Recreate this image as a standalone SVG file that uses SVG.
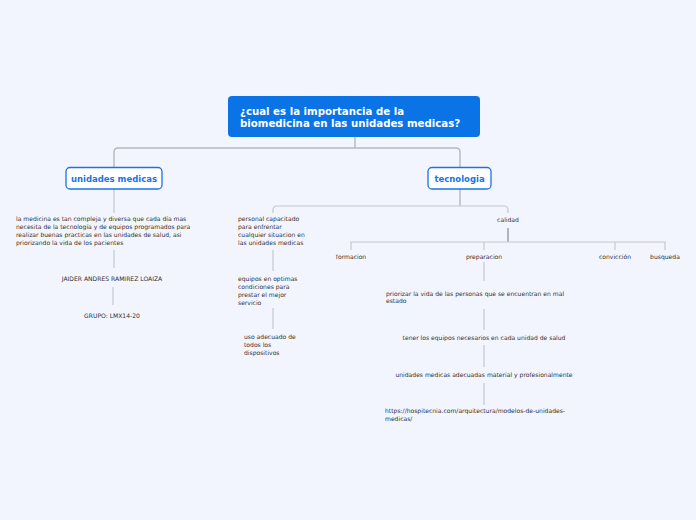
<svg xmlns="http://www.w3.org/2000/svg" width="696" height="520" viewBox="0 0 696 520">
<style>
.t{font-family:"DejaVu Sans",Verdana,sans-serif;font-size:6.05px;fill:#333}
.c{fill:none;stroke:#c4c8d0;stroke-width:1.2}
.cd{fill:none;stroke:#b4b8c0;stroke-width:1.4}
.sub{fill:#fff;stroke:#1a73e8;stroke-width:1.3}
.st{font-family:"DejaVu Sans",Verdana,sans-serif;font-size:8.5px;font-weight:bold;fill:#1a73e8}
</style>
<rect width="696" height="520" fill="#f2f5fe"/>
<g id="connectors">
<path class="cd" d="M355 137V148M114 167V152Q114 148 118 148H456Q460 148 460 152V167"/>
<path class="c" d="M114 189V213M114 250V268M113 287V305"/>
<path class="cd" d="M460 189V206"/>
<path class="c" d="M273 213V210Q273 206 277 206H504Q508 206 508 210V213"/>
<path class="c" d="M273 250V271M273 308V329"/>
<path class="cd" d="M508 228V242" style="stroke-width:2;stroke:#b0b4bc"/>
<path class="c" d="M351 250V242H665V250M484 242V250M615 242V250"/>
<path class="c" d="M484 262V281M484 309V330M484 345V367M484 383V405"/>
</g>
<g id="root">
<rect x="228" y="96" width="252" height="41" rx="4" fill="#0a73e6"/>
<text x="240" y="115" font-family="DejaVu Sans,Verdana,sans-serif" font-size="10.2" font-weight="bold" fill="#fff">¿cual es la importancia de la</text>
<text x="240" y="127" font-family="DejaVu Sans,Verdana,sans-serif" font-size="10.2" font-weight="bold" fill="#fff">biomedicina en las unidades medicas?</text>
</g>
<g id="unidades">
<rect class="sub" x="66" y="167.5" width="96" height="21.5" rx="4"/>
<text class="st" x="114" y="181.5" text-anchor="middle">unidades medicas</text>
</g>
<g id="tecnologia">
<rect class="sub" x="428" y="167.5" width="63" height="21.5" rx="4"/>
<text class="st" x="459.5" y="181.5" text-anchor="middle">tecnologia</text>
</g>
<g id="medicina">
<text class="t" x="16" y="221">la medicina es tan compleja y diversa que cada día mas</text>
<text class="t" x="16" y="229">necesita de la tecnología y de equipos programados  para</text>
<text class="t" x="16" y="237">realizar buenas practicas en las unidades de salud, asi</text>
<text class="t" x="16" y="245">priorizando la vida de los pacientes</text>
</g>
<g id="jaider"><text class="t" x="112" y="281" text-anchor="middle">JAIDER ANDRES RAMIREZ LOAIZA</text></g>
<g id="grupo"><text class="t" x="112" y="318" text-anchor="middle">GRUPO: LMX14-20</text></g>
<g id="personal">
<text class="t" x="238" y="221">personal capacitado</text>
<text class="t" x="238" y="229">para enfrentar</text>
<text class="t" x="238" y="237">cualquier situacion en</text>
<text class="t" x="238" y="245">las unidades medicas</text>
</g>
<g id="equipos">
<text class="t" x="238" y="281">equipos en optimas</text>
<text class="t" x="238" y="289">condiciones para</text>
<text class="t" x="238" y="297">prestar el mejor</text>
<text class="t" x="238" y="305">servicio</text>
</g>
<g id="uso">
<text class="t" x="244" y="339">uso adecuado de</text>
<text class="t" x="244" y="347">todos los</text>
<text class="t" x="244" y="355">dispositivos</text>
</g>
<g id="calidad"><text class="t" x="508" y="222" text-anchor="middle">calidad</text></g>
<g id="formacion"><text class="t" x="351" y="259" text-anchor="middle">formacion</text></g>
<g id="preparacion"><text class="t" x="484" y="259" text-anchor="middle">preparacion</text></g>
<g id="conviccion"><text class="t" x="615" y="259" text-anchor="middle">convicción</text></g>
<g id="busqueda"><text class="t" x="665" y="259" text-anchor="middle">busqueda</text></g>
<g id="priorizar">
<text class="t" x="386" y="296">priorizar la vida de las personas que se encuentran en mal</text>
<text class="t" x="386" y="303">estado</text>
</g>
<g id="tener"><text class="t" x="484" y="340" text-anchor="middle">tener los equipos necesarios en cada unidad de salud</text></g>
<g id="adecuadas"><text class="t" x="484" y="377" text-anchor="middle">unidades medicas adecuadas material y profesionalmente</text></g>
<g id="url">
<text class="t" x="385" y="413">https://hospitecnia.com/arquitectura/modelos-de-unidades-</text>
<text class="t" x="385" y="421">medicas/</text>
</g>
</svg>
